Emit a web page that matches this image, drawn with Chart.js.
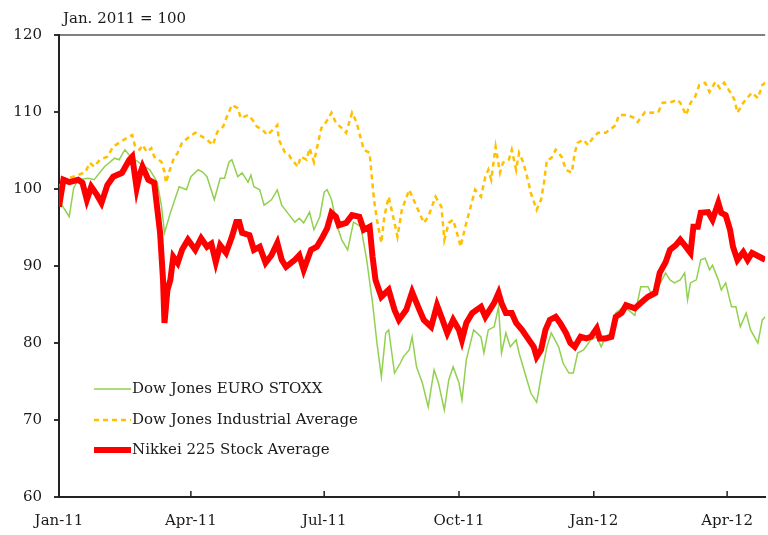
<!DOCTYPE html>
<html>
<head>
<meta charset="utf-8">
<script src="https://cdn.jsdelivr.net/npm/chart.js@4/dist/chart.umd.min.js"></script>
<style>
  body { margin: 0; background: #fff; }
  #wrap { width: 768px; height: 535px; }
</style>
</head>
<body>
<div id="wrap"><canvas id="myChart" width="768" height="535"></canvas></div>
<script>
// days counted from 1 Jan 2011
const tickDays = [0, 90, 181, 273, 365, 456];
const tickLabels = ["Jan-11", "Apr-11", "Jul-11", "Oct-11", "Jan-12", "Apr-12"];
const seriesNames = ["Dow Jones EURO STOXX", "Dow Jones Industrial Average", "Nikkei 225 Stock Average"];

const stoxxDays = [0,2,7,10,13,20,24,31,38,41,45,48,52,57,62,67,70,72,76,79,82,87,90,95,98,101,106,110,113,116,118,122,125,129,131,133,137,140,145,149,152,156,161,164,167,171,174,178,181,183,186,190,193,197,201,206,210,214,217,220,223,225,229,233,235,239,241,244,248,252,256,259,263,266,269,273,275,278,283,288,290,293,297,300,302,305,308,312,314,318,322,326,329,333,336,341,344,348,351,354,358,363,367,370,373,377,380,384,386,393,397,402,404,409,414,417,420,424,427,429,431,435,438,441,444,446,450,452,455,459,462,465,469,472,477,480,482];
const stoxxValues = [100.0,97.9,96.4,100.1,101.2,101.4,101.2,102.9,104.0,103.8,105.1,104.4,103.8,103.1,102.5,100.9,97.7,94.3,96.9,98.6,100.3,99.9,101.6,102.5,102.2,101.6,98.6,101.4,101.4,103.5,103.8,101.6,102.1,100.9,101.8,100.3,99.9,97.9,98.6,99.9,97.9,96.9,95.7,96.2,95.6,97.0,94.7,96.4,99.6,99.9,98.6,95.1,93.4,92.1,95.7,95.1,90.8,85.2,80.0,75.6,81.3,81.7,76.1,77.4,78.2,79.1,80.8,76.9,74.8,71.7,76.5,74.8,71.3,75.2,76.9,74.8,72.6,77.8,81.7,80.8,78.7,81.7,82.1,84.7,78.7,81.3,79.5,80.4,78.7,76.1,73.5,72.3,75.6,79.5,81.3,79.5,77.4,76.1,76.1,78.7,79.1,80.4,80.8,79.5,80.8,81.3,83.9,84.5,84.7,83.6,87.3,87.3,86.5,87.3,89.1,88.2,87.8,88.2,89.1,85.6,87.8,88.2,90.8,91.0,89.5,90.1,88.2,86.9,87.8,84.7,84.7,82.1,83.9,81.7,80.0,83.0,83.4];

const djiaDays = [0,2,6,13,18,21,24,28,33,37,41,46,50,52,55,57,60,63,65,70,72,73,76,78,81,84,89,93,96,101,105,108,112,115,118,122,124,129,132,135,139,142,146,149,150,154,157,159,163,165,169,171,174,176,179,182,186,189,193,196,200,203,208,212,213,215,217,220,222,225,229,231,234,239,242,246,249,252,257,261,263,266,269,273,274,278,281,284,288,291,293,295,298,301,303,307,309,312,314,317,320,322,326,329,331,333,336,339,343,346,350,352,354,358,361,365,368,373,376,380,382,388,393,395,400,404,409,412,418,422,424,428,431,434,437,441,444,448,451,454,458,461,463,467,470,473,477,480,482];
const djiaValues = [100.0,101.2,101.4,101.8,102.2,103.4,102.9,103.8,104.2,105.5,106.0,106.6,107.0,105.5,105.1,105.7,104.8,105.3,104.2,103.5,102.2,100.8,102.7,103.8,104.7,106.0,106.8,107.3,107.0,106.4,105.7,107.4,108.1,109.6,110.9,110.5,109.2,109.6,109.0,108.1,107.7,107.0,107.7,108.3,106.4,104.8,104.4,103.8,102.9,104.2,103.8,105.3,103.5,105.3,107.9,108.6,109.9,108.6,107.9,107.3,109.9,108.7,105.1,104.7,102.5,98.6,96.0,93.0,96.4,99.0,95.6,93.8,97.3,99.9,98.6,96.9,95.6,96.4,99.0,97.7,93.4,95.6,96.0,93.4,92.5,95.6,97.7,99.9,99.0,101.6,102.5,101.2,105.5,102.1,103.4,103.8,105.1,102.5,104.7,103.4,101.2,99.5,97.3,98.6,100.8,103.8,104.0,105.1,104.2,102.5,102.1,104.7,106.0,106.4,105.7,106.8,107.3,107.3,107.7,108.3,109.6,109.6,109.2,108.7,110.0,109.9,110.0,111.2,111.3,111.6,111.2,109.6,111.2,111.9,113.5,113.8,112.6,113.9,113.1,113.8,112.6,111.6,109.9,111.2,111.9,112.5,111.8,113.5,113.8];

const nikkeiDays = [0,3,7,13,16,19,22,26,29,33,37,43,48,50,53,55,57,61,65,69,71,72,74,76,78,81,84,88,93,97,101,104,107,110,114,118,121,123,125,130,133,137,141,145,149,152,155,161,164,167,172,176,180,183,186,189,191,196,200,205,208,212,214,216,220,225,229,232,237,241,246,249,254,258,261,265,269,273,275,278,282,288,291,293,297,300,302,305,309,312,316,320,324,326,329,332,335,339,342,346,349,352,356,360,363,367,369,373,377,380,384,387,393,397,402,407,410,414,417,421,424,427,431,433,436,438,443,446,450,452,455,458,460,463,467,470,473,478,482];
const nikkeiValues = [97.7,101.2,100.9,101.2,100.8,98.6,100.3,99.2,98.2,100.5,101.6,102.1,103.8,104.2,100.1,101.8,102.9,101.2,100.8,94.3,88.2,82.6,86.9,88.2,91.2,90.4,92.1,93.4,92.1,93.6,92.5,92.9,90.5,92.7,91.7,93.8,95.7,95.7,94.3,94.0,92.1,92.5,90.4,91.4,93.0,90.8,89.9,90.8,91.4,89.5,92.1,92.5,93.8,94.9,96.9,96.4,95.3,95.6,96.6,96.4,94.7,95.1,91.2,88.2,86.0,86.9,84.3,83.0,84.3,86.6,84.3,83.0,82.1,84.9,83.4,81.3,83.0,81.7,80.4,82.6,83.9,84.7,83.4,84.0,85.2,86.5,85.2,83.9,83.9,82.6,81.7,80.6,79.5,78.2,79.1,81.7,83.0,83.4,82.6,81.3,80.0,79.5,80.8,80.6,80.8,81.9,80.6,80.6,80.8,83.4,83.9,84.9,84.5,85.2,86.0,86.5,89.1,90.5,92.1,92.7,93.4,92.7,91.7,95.1,95.1,96.9,97.0,96.0,98.2,96.9,96.6,94.7,92.5,90.8,91.8,90.8,91.7,91.2,90.8];

const FONT = "'DejaVu Serif', 'Liberation Serif', serif";
const TEXT = "#1a1a1a";

function pts(days, vals) {
  return days.map((d, i) => ({ x: d, y: vals[i] }));
}

// title, inward x ticks and legend inside the plot
const extras = {
  id: "extras",
  afterDraw(chart) {
    const ctx = chart.ctx;
    const xs = chart.scales.x;
    const area = chart.chartArea;
    ctx.save();
    ctx.font = "15px " + FONT;
    ctx.fillStyle = TEXT;
    ctx.textBaseline = "middle";
    ctx.textAlign = "left";
    ctx.fillText("Jan. 2011 = 100", 63, 19);

    ctx.strokeStyle = "#222";
    ctx.lineWidth = 1.5;
    tickDays.forEach((d) => {
      const px = xs.getPixelForValue(d);
      ctx.beginPath();
      ctx.moveTo(px, area.bottom);
      ctx.lineTo(px, area.bottom - 6);
      ctx.stroke();
    });

    const rows = [389, 420, 450];
    chart.data.datasets.forEach((ds, i) => {
      const y = rows[i];
      ctx.beginPath();
      ctx.strokeStyle = ds.borderColor;
      ctx.lineWidth = ds.borderWidth;
      ctx.setLineDash(ds.borderDash || []);
      ctx.moveTo(94, y);
      ctx.lineTo(131, y);
      ctx.stroke();
      ctx.setLineDash([]);
      ctx.fillStyle = TEXT;
      ctx.fillText(ds.label, 132, y);
    });
    ctx.restore();
  },
};

const ctx = document.getElementById("myChart");
const myChart = new Chart(ctx, {
  type: "line",
  data: {
    datasets: [
      {
        label: seriesNames[0],
        data: pts(stoxxDays, stoxxValues),
        borderColor: "#92d050",
        borderWidth: 1.5,
        order: 2,
      },
      {
        label: seriesNames[1],
        data: pts(djiaDays, djiaValues),
        borderColor: "#ffc000",
        borderWidth: 2.5,
        borderDash: [5, 4],
        order: 1,
      },
      {
        label: seriesNames[2],
        data: pts(nikkeiDays, nikkeiValues),
        borderColor: "#ff0000",
        borderWidth: 6,
        order: 0,
      },
    ],
  },
  options: {
    responsive: false,
    animation: false,
    layout: { padding: { top: 35, left: 0, right: 0, bottom: 0 } },
    elements: { point: { radius: 0 }, line: { tension: 0 } },
    plugins: { legend: { display: false }, tooltip: { enabled: false } },
    scales: {
      x: {
        type: "linear",
        min: 0,
        max: 482,
        afterBuildTicks: (scale) => {
          scale.ticks = tickDays.map((d) => ({ value: d }));
        },
        afterFit: (scale) => {
          scale.height = 38;
        },
        ticks: {
          autoSkip: false,
          maxRotation: 0,
          padding: 15,
          color: TEXT,
          font: { family: FONT, size: 15 },
          callback: (v, i) => tickLabels[i],
        },
        grid: { display: false, drawTicks: false },
        border: { display: true, color: "#222", width: 2 },
      },
      y: {
        min: 60,
        max: 120,
        afterFit: (scale) => {
          scale.width = 59;
        },
        ticks: {
          stepSize: 10,
          padding: 12,
          color: TEXT,
          font: { family: FONT, size: 15 },
        },
        grid: {
          color: (c) => (c.tick && c.tick.value === 120 ? "#808080" : "rgba(0,0,0,0)"),
          lineWidth: 2,
          tickColor: "#333",
          tickLength: 5,
        },
        border: { display: true, color: "#222", width: 2 },
      },
    },
  },
  plugins: [extras],
});
</script>
</body>
</html>
